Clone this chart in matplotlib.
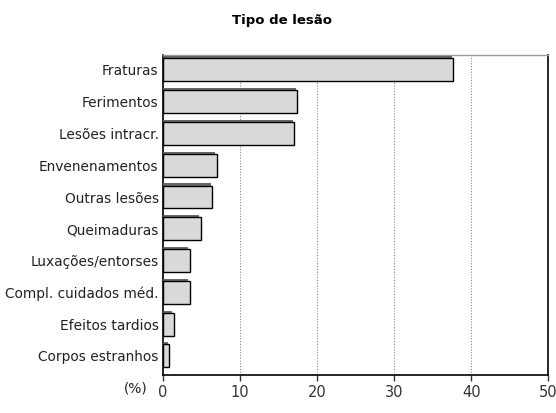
import matplotlib.pyplot as plt
import matplotlib.patheffects as pe
import numpy as np

# dados (%), de cima para baixo
categorias = ['Fraturas', 'Ferimentos', 'Lesões intracr.', 'Envenenamentos',
              'Outras lesões', 'Queimaduras', 'Luxações/entorses',
              'Compl. cuidados méd.', 'Efeitos tardios', 'Corpos estranhos']
valores = [37.7, 17.4, 17.0, 7.0, 6.4, 4.9, 3.5, 3.5, 1.4, 0.8]

plt.rcParams['font.family'] = ['DejaVu Sans']

fig = plt.figure(figsize=(5.56, 4.13), dpi=100)
ax = fig.add_axes([0.293, 0.092, 0.693, 0.775])

y = np.arange(len(categorias))[::-1]
bars = ax.barh(y, valores, height=0.72, color='#d9d9d9', edgecolor='black',
               linewidth=1.0, zorder=3)
for b in bars:
    b.set_path_effects([pe.SimplePatchShadow(offset=(-1, 1.5), shadow_rgbFace='0.35', alpha=0.9),
                        pe.Normal()])

ax.set_xlim(0, 50)
ax.set_ylim(-0.6, 9.47)
ax.set_xticks([0, 10, 20, 30, 40, 50])
ax.set_yticks(y)
ax.set_yticklabels(categorias, fontsize=9.9, color='#222222')
ax.tick_params(axis='x', labelsize=10.5, length=4, width=1, colors='#333333')
ax.tick_params(axis='y', length=0, pad=3)
ax.grid(axis='x', linestyle=(0, (1, 1.5)), color='#888888', linewidth=0.8, zorder=0)

ax.spines['left'].set_linewidth(1.2)
ax.spines['bottom'].set_linewidth(1.2)
ax.spines['right'].set_linewidth(1.2)
ax.spines['top'].set_color('#999999')
ax.spines['top'].set_linewidth(1.0)

fig.text(0.508, 0.95, 'Tipo de lesão', ha='center', va='center',
         fontsize=9.5, fontweight='bold')
fig.text(0.245, 0.06, '(%)', ha='center', va='center', fontsize=9.9,
         color='#222222')

fig.savefig('out.png', dpi=100)
